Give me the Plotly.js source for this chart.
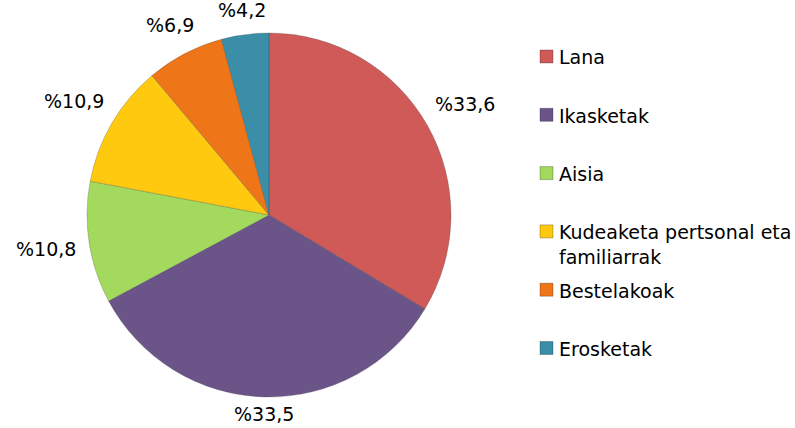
<!DOCTYPE html>
<html>
<head>
<meta charset="utf-8">
<script src="https://cdn.plot.ly/plotly-3.0.1.min.js"></script>
<style>html,body{margin:0;padding:0;background:#fff;}#chart{width:795px;height:428px;}</style>
</head>
<body>
<div id="chart"></div>
<script>
// Data
const categories = ["Lana", "Ikasketak", "Aisia", "Kudeaketa pertsonal eta familiarrak", "Bestelakoak", "Erosketak"];
const legendLabels = ["Lana", "Ikasketak", "Aisia", "Kudeaketa pertsonal eta<br>familiarrak", "Bestelakoak", "Erosketak"];
const values = [33.6, 33.5, 10.8, 10.9, 6.9, 4.2];
const valueLabels = ["%33,6", "%33,5", "%10,8", "%10,9", "%6,9", "%4,2"];
const colors = ["#D05A58", "#6B5488", "#A3DA5D", "#FFC90F", "#EF7618", "#3A8EA7"];

const W = 795, H = 428;
const cx = 269, cy = 215, R = 182;
const FONT = "DejaVu Sans, Verdana, sans-serif";
const FS = 19;

const trace = {
  type: "pie",
  labels: categories,
  values: values,
  sort: false,
  direction: "clockwise",
  rotation: 0,
  textinfo: "none",
  hoverinfo: "none",
  showlegend: false,
  marker: {colors: colors, line: {color: "rgba(60,60,60,0.25)", width: 1}},
  domain: {x: [(cx - R) / W, (cx + R) / W], y: [1 - (cy + R) / H, 1 - (cy - R) / H]}
};

const annotations = [];
const shapes = [];
// Slice labels, positioned from cumulative angles
const total = values.reduce((a, b) => a + b, 0);
let cum = 0;
values.forEach((v, i) => {
  const mid = (cum + v / 2) / total * 2 * Math.PI;
  cum += v;
  const s = Math.sin(mid), c = Math.cos(mid);
  const halfW = valueLabels[i].length * 6;
  const halfH = 9;
  const d = 13 + Math.abs(s) * halfW + Math.abs(c) * halfH;
  const px = cx + (R + d) * s;
  const py = Math.min(cy - (R + d) * c, H - 14);
  annotations.push({
    x: px / W, y: 1 - py / H, xref: "paper", yref: "paper",
    text: valueLabels[i], showarrow: false, xanchor: "center", yanchor: "middle",
    borderpad: 0,
    font: {family: FONT, size: FS, color: "#000"}
  });
});

// Manual legend
const legX = 540, legTextX = 557, legY0 = 56.5, legStep = 58.3, sq = 13;
categories.forEach((c, i) => {
  const y = legY0 + i * legStep;
  shapes.push({
    type: "rect", xref: "paper", yref: "paper",
    x0: legX / W, x1: (legX + sq) / W, y0: 1 - (y + sq / 2) / H, y1: 1 - (y - sq / 2) / H,
    fillcolor: colors[i], line: {color: "rgba(0,0,0,0.25)", width: 1}
  });
  annotations.push({
    x: legTextX / W, y: 1 - (y - 12) / H, xref: "paper", yref: "paper",
    text: legendLabels[i], showarrow: false, xanchor: "left", yanchor: "top", align: "left",
    font: {family: FONT, size: FS, color: "#000"}
  });
});

const layout = {
  width: W, height: H,
  margin: {l: 0, r: 0, t: 0, b: 0},
  paper_bgcolor: "#fff",
  showlegend: false,
  annotations: annotations,
  shapes: shapes,
  font: {family: FONT, size: FS}
};

Plotly.newPlot("chart", [trace], layout, {displayModeBar: false, staticPlot: true});
</script>
</body>
</html>
